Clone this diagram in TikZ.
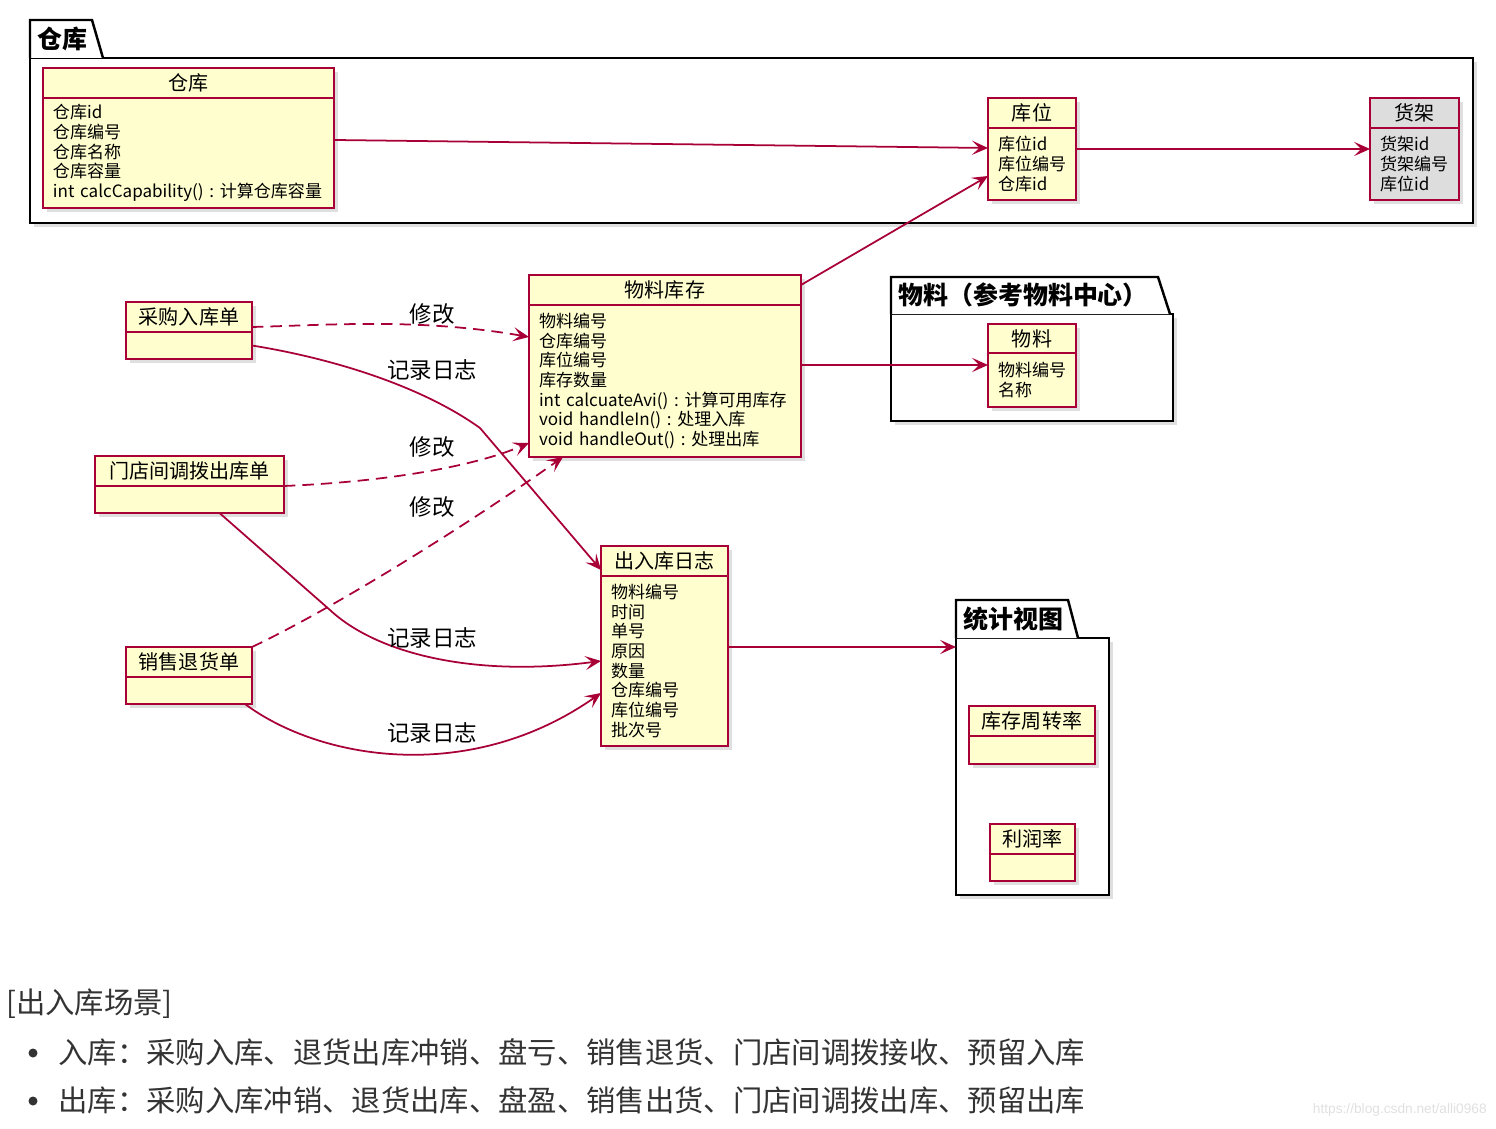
\documentclass[tikz,border=0pt]{standalone}
\usepackage{fontspec}
\setmainfont{Noto Sans CJK SC}
\newfontfamily\urlfont{Liberation Sans}
\usepackage{tikz}
\usetikzlibrary{arrows.meta, shadows}

\definecolor{umlred}{HTML}{A80036}
\definecolor{umlfill}{HTML}{FEFECE}
\definecolor{shelfgray}{HTML}{DDDDDD}
\definecolor{notegray}{HTML}{333333}

\tikzset{
    umlshadow/.style={drop shadow={shadow xshift=0.08cm, shadow yshift=-0.08cm, opacity=0.25}},
    clshead/.style={draw=umlred, fill=umlfill, line width=1.3pt, anchor=north west, inner sep=0pt, outer sep=0pt,
        minimum height=0.6cm, font=\fontsize{11.4pt}{13pt}\selectfont, umlshadow},
    clsattrs/.style={draw=umlred, fill=umlfill, line width=1.3pt, anchor=north west, inner xsep=0.2cm, outer sep=0pt,
        inner ysep=0pt, align=left, font=\fontsize{9.7pt}{11.2pt}\selectfont, umlshadow},
    pkgbody/.style={draw=black, fill=white, line width=1.4pt, anchor=north west, inner sep=0pt, outer sep=0pt, umlshadow},
    pkgtab/.style={draw=black, fill=white, line width=1.4pt},
    pkgtitle/.style={anchor=west, inner sep=0pt, font=\fontsize{14.2pt}{16pt}\selectfont\bfseries},
    assoc/.style={draw=umlred, line width=1pt, -{Stealth[length=9pt, width=8pt, inset=4pt]}},
    modify/.style={assoc, dash pattern=on 6.5pt off 4pt},
    edgelabel/.style={inner sep=0pt, font=\fontsize{12.8pt}{14pt}\selectfont},
    scenetext/.style={anchor=west, inner sep=0pt, text=notegray, font=\fontsize{16.7pt}{18pt}\selectfont}
}

\begin{document}
\begin{tikzpicture}[x=0.02cm, y=-0.02cm]
    \useasboundingbox (0,0) rectangle (1496,1128);

    % packages
    \node (whPkg) [pkgbody, minimum width=28.86cm, minimum height=3.3cm] at (30,58) {};
    \draw[pkgtab] (whPkg.north west) -- ++(0,-38) -- ++(62,0) -- ++(11,38);
    \node (whPkgTitle) [pkgtitle] at (37,39) {仓库};

    \node (matPkg) [pkgbody, minimum width=5.64cm, minimum height=2.14cm] at (891,314) {};
    \draw[pkgtab] (matPkg.north west) -- ++(0,-37) -- ++(267,0) -- ++(12,37);
    \node (matPkgTitle) [pkgtitle] at (898,295) {物料（参考物料中心）};

    \node (statPkg) [pkgbody, minimum width=3.06cm, minimum height=5.14cm] at (956,638) {};
    \draw[pkgtab] (statPkg.north west) -- ++(0,-38) -- ++(112,0) -- ++(10,38);
    \node (statPkgTitle) [pkgtitle] at (963,619) {统计视图};

    % classes
    \node (whHead) [clshead, minimum width=5.82cm] at (43,68) {仓库};
    \node (whAttrs) [clsattrs, text width=5.42cm, minimum height=2.2cm] at (whHead.south west) {
        仓库id\\
        仓库编号\\
        仓库名称\\
        仓库容量\\
        int~calcCapability()~:~计算仓库容量
    };

    \node (binHead) [clshead, minimum width=1.76cm] at (988,98) {库位};
    \node (binAttrs) [clsattrs, text width=1.36cm, minimum height=1.44cm] at (binHead.south west) {
        库位id\\
        库位编号\\
        仓库id
    };

    \node (shelfHead) [clshead, fill=shelfgray, minimum width=1.78cm] at (1370,98) {货架};
    \node (shelfAttrs) [clsattrs, fill=shelfgray, text width=1.38cm, minimum height=1.44cm] at (shelfHead.south west) {
        货架id\\
        货架编号\\
        库位id
    };

    \node (stockHead) [clshead, minimum width=5.44cm] at (529,275) {物料库存};
    \node (stockAttrs) [clsattrs, text width=5.04cm, minimum height=3.04cm] at (stockHead.south west) {
        物料编号\\
        仓库编号\\
        库位编号\\
        库存数量\\
        int~calcuateAvi()~:~计算可用库存\\
        void~handleIn()~:~处理入库\\
        void~handleOut()~:~处理出库
    };

    \node (matHead) [clshead, minimum width=1.76cm, minimum height=0.58cm] at (988,324) {物料};
    \node (matAttrs) [clsattrs, text width=1.36cm, minimum height=1.08cm] at (matHead.south west) {
        物料编号\\
        名称
    };

    \node (purHead) [clshead, minimum width=2.52cm] at (126,302) {采购入库单};
    \node (purAttrs) [clsattrs, text width=2.12cm, minimum height=0.54cm] at (purHead.south west) {};

    \node (transHead) [clshead, minimum width=3.78cm] at (95,456) {门店间调拨出库单};
    \node (transAttrs) [clsattrs, text width=3.38cm, minimum height=0.54cm] at (transHead.south west) {};

    \node (retHead) [clshead, minimum width=2.52cm] at (126,647) {销售退货单};
    \node (retAttrs) [clsattrs, text width=2.12cm, minimum height=0.54cm] at (retHead.south west) {};

    \node (logHead) [clshead, minimum width=2.54cm] at (601,546) {出入库日志};
    \node (logAttrs) [clsattrs, text width=2.14cm, minimum height=3.4cm] at (logHead.south west) {
        物料编号\\
        时间\\
        单号\\
        原因\\
        数量\\
        仓库编号\\
        库位编号\\
        批次号
    };

    \node (turnHead) [clshead, minimum width=2.52cm] at (969,706) {库存周转率};
    \node (turnAttrs) [clsattrs, text width=2.12cm, minimum height=0.56cm] at (turnHead.south west) {};

    \node (profitHead) [clshead, minimum width=1.7cm] at (990,824) {利润率};
    \node (profitAttrs) [clsattrs, text width=1.3cm, minimum height=0.54cm] at (profitHead.south west) {};

    % connectors
    \draw[assoc] ([yshift=0.26cm]whAttrs.east) -- ([yshift=0.32cm]binAttrs.west);
    \draw[assoc] ([yshift=0.3cm]binAttrs.east) -- ([yshift=0.3cm]shelfAttrs.west);
    \draw[assoc] ([yshift=-0.2cm]stockHead.north east) -- ([yshift=-0.24cm]binAttrs.west);
    \draw[assoc] ([yshift=0.32cm]stockAttrs.east) -- ([yshift=0.3cm]matAttrs.west);
    \draw[assoc] ([yshift=0.28cm]logAttrs.east) -- ([yshift=-0.18cm]statPkg.north west);

    \draw[modify] ([yshift=0.1cm]purHead.south east) .. controls (330,325) and (420,318) .. ([yshift=-0.64cm]stockAttrs.north west);
    \draw[assoc] (purAttrs.east) .. controls (330,358) and (420,385) .. (480,428) -- ([yshift=0.12cm]logHead.south west);
    \draw[modify] (transHead.south east) .. controls (380,482) and (470,468) .. ([yshift=0.28cm]stockAttrs.south west);
    \draw[assoc] ([xshift=0.6cm]transAttrs.south) -- (330,610) .. controls (375,652) and (470,678) .. (logAttrs.west);
    \draw[modify] (retHead.north east) .. controls (330,610) and (460,530) .. ([xshift=0.68cm]stockAttrs.south west);
    \draw[assoc] ([xshift=-0.14cm]retAttrs.south east) .. controls (320,760) and (470,785) .. ([yshift=-0.64cm]logAttrs.west);

    % edge labels
    \node (lblPurMod) [edgelabel] at (432,314) {修改};
    \node (lblPurLog) [edgelabel] at (432,370) {记录日志};
    \node (lblTransMod) [edgelabel] at (432,447) {修改};
    \node (lblRetMod) [edgelabel] at (432,507) {修改};
    \node (lblTransLog) [edgelabel] at (432,638) {记录日志};
    \node (lblRetLog) [edgelabel] at (432,733) {记录日志};

    % scenes
    \node (scene) [scenetext] at (6,1004) {[出入库场景]};
    \fill[notegray] (33,1053) circle (4.5);
    \node (sceneIn) [scenetext] at (58,1052) {入库：采购入库、退货出库冲销、盘亏、销售退货、门店间调拨接收、预留入库};
    \fill[notegray] (33,1101) circle (4.5);
    \node (sceneOut) [scenetext] at (58,1100) {出库：采购入库冲销、退货出库、盘盈、销售出货、门店间调拨出库、预留出库};
    \node (srcUrl) [anchor=east, inner sep=0pt, text=black!12, font=\urlfont\fontsize{7.8pt}{9pt}\selectfont] at (1487,1110) {https://blog.csdn.net/alli0968};
\end{tikzpicture}
\end{document}
